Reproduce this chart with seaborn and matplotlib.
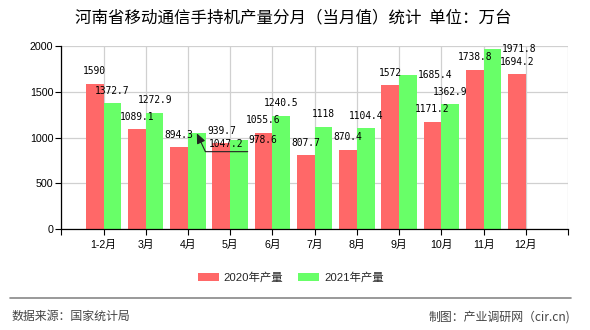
import numpy as np
import pandas as pd
import matplotlib
matplotlib.use("Agg")
import matplotlib.pyplot as plt
import seaborn as sns
from matplotlib.lines import Line2D
from matplotlib.patches import Patch

# ---------------- data ----------------
title = "河南省移动通信手持机产量分月（当月值）统计  单位：万台"
months = ["1-2月", "3月", "4月", "5月", "6月", "7月", "8月", "9月", "10月", "11月", "12月"]
series_names = ["2020年产量", "2021年产量"]
prod_2020 = [1590, 1089.1, 894.3, 939.7, 1055.6, 807.7, 870.4, 1572, 1171.2, 1738.8, 1694.2]
prod_2021 = [1372.7, 1272.9, 1047.2, 978.6, 1240.5, 1118, 1104.4, 1685.4, 1362.9, 1971.8, np.nan]
# label placement style per bar
label_style_2020 = ["above"] * 11
label_style_2021 = ["above", "above", "arrow", "right", "above", "above", "above", "right", "above", "right", None]
yticks = [0, 500, 1000, 1500, 2000]
source_text = "数据来源：国家统计局"
maker_text = "制图：产业调研网（cir.cn)"

colors = ["#ff6868", "#68ff68"]

df = pd.DataFrame({
    "month": months * 2,
    "value": prod_2020 + prod_2021,
    "series": [series_names[0]] * len(months) + [series_names[1]] * len(months),
})

# ---------------- figure ----------------
sns.set_theme(style="white")
plt.rcParams["font.family"] = ["Liberation Sans", "Noto Sans CJK SC"]

fig = plt.figure(figsize=(5.9, 3.3), dpi=100)
ax = fig.add_axes([61.3 / 590, 1 - 229.3 / 330, (568 - 61.3) / 590, (229.3 - 46) / 330])

sns.barplot(data=df, x="month", y="value", hue="series", order=months,
            hue_order=series_names, palette=colors, width=0.84, errorbar=None,
            saturation=1, linewidth=0, ax=ax, legend=False)

ax.set_xlim(-1, 11)
ax.set_ylim(0, 2000)
ax.set_xticks(range(-1, 12))
ax.set_xticklabels([""] + months + [""])
ax.set_yticks(yticks)
ax.set_yticklabels([str(t) for t in yticks])
ax.set_xlabel("")
ax.set_ylabel("")
ax.set_axisbelow(True)
ax.grid(True, color="#d0d0d0", linewidth=0.9)
for s in ["top", "right"]:
    ax.spines[s].set_visible(False)
for s in ["left", "bottom"]:
    ax.spines[s].set_color("black")
    ax.spines[s].set_linewidth(0.9)
ax.tick_params(axis="both", direction="out", length=4.3, width=0.8, color="black",
               labelsize=7.7, labelcolor="black", pad=1.5, bottom=True, left=True)
ax.tick_params(axis="x", pad=3)

# ---------------- value labels ----------------
lab_font = dict(family="DejaVu Sans Mono", size=6.9, color="black")
styles = [label_style_2020, label_style_2021]
for ci, cont in enumerate(ax.containers):
    for p in cont.patches:
        h = p.get_height()
        if h is None or np.isnan(h):
            continue
        cx = p.get_x() + p.get_width() / 2
        idx = int(round(cx))
        st = styles[ci][idx]
        txt = f"{h:g}"
        if st == "above":
            ax.annotate(txt, xy=(cx, h), xytext=(0, 9), textcoords="offset points",
                        ha="center", va="center", **lab_font)
        elif st == "right":
            ax.annotate(txt, xy=(p.get_x() + p.get_width(), h), xytext=(0.5, 0),
                        textcoords="offset points", ha="left", va="center", **lab_font)
        elif st == "arrow":
            ax.annotate(txt, xy=(cx, h), xytext=(21.2, -7.6), textcoords="offset points",
                        ha="center", va="center", **lab_font)
            ax.annotate("", xy=(cx, h), xytext=(36.6, -13.2), textcoords="offset points",
                        arrowprops=dict(arrowstyle="-|>,head_length=0.5,head_width=0.22",
                                        connectionstyle="angle,angleA=0,angleB=-65,rad=0",
                                        color="#222222", lw=0.8, shrinkA=0, shrinkB=0))

# ---------------- legend ----------------
handles = [Patch(facecolor=c, edgecolor="none", label=n) for c, n in zip(colors, series_names)]
fig.legend(handles=handles, loc="center", bbox_to_anchor=(290.8 / 590, 1 - 277.3 / 330),
           ncol=2, frameon=False, fontsize=8.2, handlelength=1.86, handleheight=0.7,
           handletextpad=0.42, columnspacing=1.3, borderpad=0, borderaxespad=0)

# ---------------- title & footer ----------------
fig.text(293.7 / 590, 1 - 18.3 / 330, title, ha="center", va="center",
         fontsize=11.9, family=["Noto Sans CJK SC", "DejaVu Sans"], color="black")
fig.add_artist(Line2D([10 / 590, 571 / 590], [1 - 298.3 / 330] * 2, color="#888888", lw=1.2))
fig.text(11.7 / 590, 1 - 316.7 / 330, source_text, ha="left", va="center",
         fontsize=8.6, family=["Noto Sans CJK SC", "DejaVu Sans"], color="#444444")
fig.text(570 / 590, 1 - 316.7 / 330, maker_text, ha="right", va="center",
         fontsize=8.6, family=["Noto Sans CJK SC", "DejaVu Sans"], color="#444444")

fig.savefig("out.png", dpi=100)
